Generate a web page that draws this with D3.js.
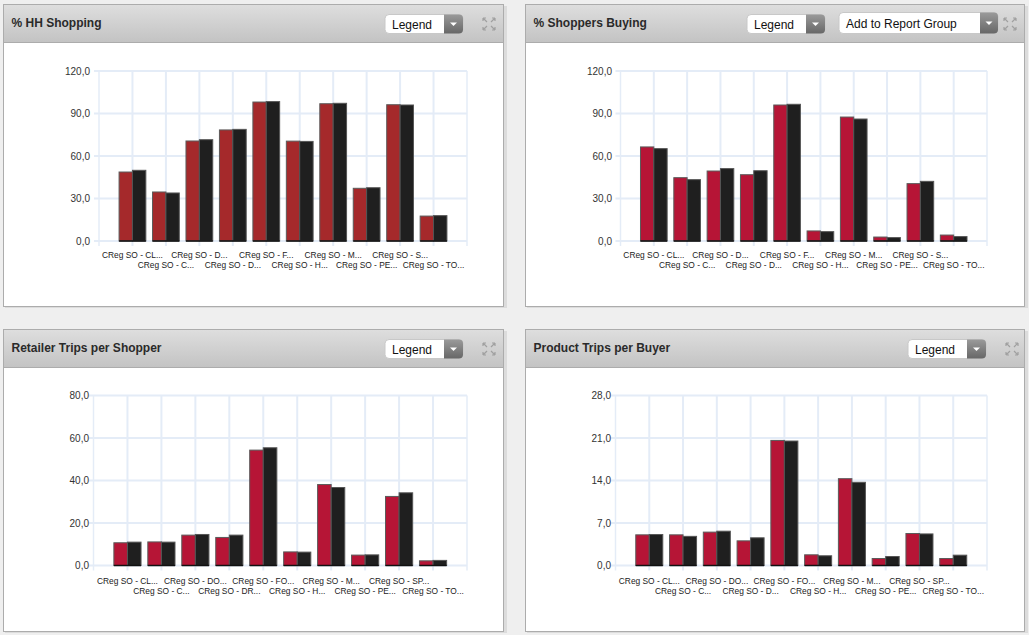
<!DOCTYPE html>
<html><head><meta charset="utf-8">
<script src="https://cdn.jsdelivr.net/npm/d3@7"></script>
<style>
html,body{margin:0;padding:0;background:#efefef;}
svg{display:block;font-family:"Liberation Sans",Arial,sans-serif;}
</style></head>
<body>
<svg id="c" width="1029" height="635"></svg>
<script>
// ---------- data ----------
const catsA = ["CReg SO - CL...","CReg SO - C...","CReg SO - D...","CReg SO - D...","CReg SO - F...","CReg SO - H...","CReg SO - M...","CReg SO - PE...","CReg SO - S...","CReg SO - TO..."];
const catsC = ["CReg SO - CL...","CReg SO - C...","CReg SO - DO...","CReg SO - DR...","CReg SO - FO...","CReg SO - H...","CReg SO - M...","CReg SO - PE...","CReg SO - SP...","CReg SO - TO..."];
const catsD = ["CReg SO - CL...","CReg SO - C...","CReg SO - DO...","CReg SO - D...","CReg SO - FO...","CReg SO - H...","CReg SO - M...","CReg SO - PE...","CReg SO - SP...","CReg SO - TO..."];

const hhShopRed   = [48.7,34.6,70.6,78.4,98.1,70.5,96.9,37.2,96.2,17.6];
const hhShopBlack = [49.9,33.9,71.5,78.8,98.4,70.3,97.2,37.6,96.0,17.9];

const buyRed   = [66.4,44.7,49.4,46.8,96.0,7.1,87.5,2.8,40.5,4.2];
const buyBlack = [65.2,43.3,51.1,49.6,96.5,6.6,86.1,2.4,42.1,3.1];

const tripsRed   = [10.7,11.1,14.3,13.2,54.3,6.4,38.1,4.9,32.5,2.2];
const tripsBlack = [11.0,11.0,14.6,14.3,55.4,6.3,36.7,5.0,34.2,2.4];

const prodRed   = [5.05,5.05,5.5,4.06,20.6,1.76,14.3,1.15,5.27,1.15];
const prodBlack = [5.1,4.8,5.65,4.56,20.5,1.6,13.7,1.48,5.2,1.7];

const ticksA = [0,30,60,90,120];
const ticksB = [0,30,60,90,120];
const ticksC = [0,20,40,60,80];
const ticksD = [0,7,14,21,28];

const titles = ["% HH Shopping","% Shoppers Buying","Retailer Trips per Shopper","Product Trips per Buyer"];

// ---------- layout ----------
const svg = d3.select("#c");
const loc = d3.formatLocale({decimal:",",thousands:".",grouping:[3],currency:["",""]});
const fmt = loc.format(".1f");

const defs = svg.append("defs");
const hg = defs.append("linearGradient").attr("id","hdr").attr("x1",0).attr("y1",0).attr("x2",0).attr("y2",1);
hg.append("stop").attr("offset","0%").attr("stop-color","#dedede");
hg.append("stop").attr("offset","100%").attr("stop-color","#c3c3c3");
const bg = defs.append("linearGradient").attr("id","btn").attr("x1",0).attr("y1",0).attr("x2",0).attr("y2",1);
bg.append("stop").attr("offset","0%").attr("stop-color","#9a9a9a");
bg.append("stop").attr("offset","100%").attr("stop-color","#676767");

const panels = [
  {x:3,y:4,w:500,h:302,title:titles[0],legendX:382,addGroup:false,iconX:479},
  {x:525,y:4,w:499,h:302,title:titles[1],legendX:222,addGroup:true,iconX:478},
  {x:3,y:329,w:500,h:302,title:titles[2],legendX:382,addGroup:false,iconX:479},
  {x:525,y:329,w:499,h:302,title:titles[3],legendX:383,addGroup:false,iconX:480}
];

function dropdown(g,x,y,w,h,label,btnW){
  g.append("rect").attr("x",x).attr("y",y).attr("width",w).attr("height",h).attr("rx",4)
    .attr("fill","#fff").attr("stroke","#c8c8c8");
  g.append("path").attr("d",`M${x+w-btnW},${y}H${x+w-4}Q${x+w},${y} ${x+w},${y+4}V${y+h-4}Q${x+w},${y+h} ${x+w-4},${y+h}H${x+w-btnW}Z`)
    .attr("fill","url(#btn)");
  const cx = x+w-btnW/2, cy = y+h/2;
  g.append("path").attr("d",`M${cx-3.5},${cy-1.5}L${cx+3.5},${cy-1.5}L${cx},${cy+2}Z`).attr("fill","#fff");
  g.append("text").attr("x",x+7).attr("y",y+h/2+4.5).attr("font-size",12).attr("fill","#111").text(label);
}

function icon(g,x,y){
  const c="#a0a0a0";
  const s = g.append("g").attr("stroke",c).attr("stroke-width",1.2).attr("fill","none");
  s.append("path").attr("d",`M${x+1},${y+1}L${x+5},${y+5}M${x+1},${y+1}h3M${x+1},${y+1}v3`);
  s.append("path").attr("d",`M${x+13},${y+1}L${x+9},${y+5}M${x+13},${y+1}h-3M${x+13},${y+1}v3`);
  s.append("path").attr("d",`M${x+1},${y+13}L${x+5},${y+9}M${x+1},${y+13}h3M${x+1},${y+13}v-3`);
  s.append("path").attr("d",`M${x+13},${y+13}L${x+9},${y+9}M${x+13},${y+13}h-3M${x+13},${y+13}v-3`);
}

panels.forEach(p=>{
  const g = svg.append("g");
  g.append("rect").attr("x",p.x+2).attr("y",p.y+2).attr("width",p.w+2).attr("height",p.h).attr("fill","#dcdcdc");
  g.append("rect").attr("x",p.x+0.5).attr("y",p.y+0.5).attr("width",p.w).attr("height",p.h).attr("fill","#fff").attr("stroke","#acacac");
  g.append("rect").attr("x",p.x+0.5).attr("y",p.y+0.5).attr("width",p.w).attr("height",38).attr("fill","url(#hdr)").attr("stroke","#acacac");
  g.append("text").attr("x",p.x+8.5).attr("y",p.y+23).attr("font-size",12).attr("font-weight","bold").attr("fill","#2a2a2a").text(p.title);
  dropdown(g,p.x+p.legendX,p.y+10.5,78,19,"Legend",19);
  if(p.addGroup) dropdown(g,p.x+314,p.y+8.5,159,21,"Add to Report Group",18);
  icon(g,p.x+p.iconX,p.y+13);
});

// ---------- charts ----------
const charts = [
  {cats:catsA,a:hhShopRed,b:hhShopBlack,ticks:ticksA,left:99,right:467,top:71,bottom:241,labR:90,red:"#a5292b",row1:258,row2:268},
  {cats:catsA,a:buyRed,b:buyBlack,ticks:ticksB,left:620.5,right:987,top:71,bottom:241,labR:612,red:"#b61536",row1:258,row2:268},
  {cats:catsC,a:tripsRed,b:tripsBlack,ticks:ticksC,left:93.5,right:467,top:395.5,bottom:565.5,labR:89,red:"#b61536",row1:584,row2:594},
  {cats:catsD,a:prodRed,b:prodBlack,ticks:ticksD,left:615.5,right:987,top:395.5,bottom:565.5,labR:611,red:"#b61536",row1:584,row2:594}
];

charts.forEach(c=>{
  const g = svg.append("g");
  const x = d3.scaleLinear().domain([0,c.cats.length+1]).range([c.left,c.right]);
  const y = d3.scaleLinear().domain([0,d3.max(c.ticks)]).range([c.bottom,c.top]);
  const band = x(1)-x(0);
  const bw = band*0.4;
  const grid = "#e4ecf7";
  g.selectAll(".hg").data(c.ticks).join("line")
    .attr("x1",c.left-5).attr("x2",c.right).attr("y1",d=>y(d)).attr("y2",d=>y(d))
    .attr("stroke",grid).attr("stroke-width",2);
  g.selectAll(".vg").data(d3.range(0,c.cats.length+2)).join("line")
    .attr("x1",d=>x(d)).attr("x2",d=>x(d)).attr("y1",c.top).attr("y2",c.bottom+5)
    .attr("stroke",grid).attr("stroke-width",d=>(d===0||d===c.cats.length+1)?1.5:2);
  const ya = d3.axisLeft(y).tickValues(c.ticks).tickFormat(fmt).tickSize(0).tickPadding(0);
  const yg = g.append("g").attr("transform",`translate(${c.labR},0)`).call(ya);
  yg.select(".domain").remove();
  yg.selectAll("text").attr("font-size",10).attr("fill","#333").attr("font-family","'Liberation Sans',Arial,sans-serif");
  const idx = d3.range(c.cats.length);
  g.selectAll(".ba").data(idx).join("rect")
    .attr("x",i=>x(i+1)-bw).attr("width",bw)
    .attr("y",i=>y(c.a[i])).attr("height",i=>y(0)-y(c.a[i]))
    .attr("fill",c.red).attr("stroke","#5b5b5b").attr("stroke-width",1);
  g.selectAll(".bb").data(idx).join("rect")
    .attr("x",i=>x(i+1)).attr("width",bw)
    .attr("y",i=>y(c.b[i])).attr("height",i=>y(0)-y(c.b[i]))
    .attr("fill","#1f1f1f").attr("stroke","#555").attr("stroke-width",1);
  g.selectAll(".be").data(idx).join("line")
    .attr("x1",i=>x(i+1)-bw).attr("x2",i=>x(i+1)+bw).attr("y1",y(0)).attr("y2",y(0))
    .attr("stroke","#111").attr("stroke-width",1.5);
  g.selectAll(".xl").data(idx).join("text")
    .attr("x",i=>x(i+1)).attr("y",i=>i%2===0?c.row1:c.row2)
    .attr("text-anchor","middle").attr("font-size",8.4).attr("fill","#222")
    .text(i=>c.cats[i]);
});
</script>
</body></html>
